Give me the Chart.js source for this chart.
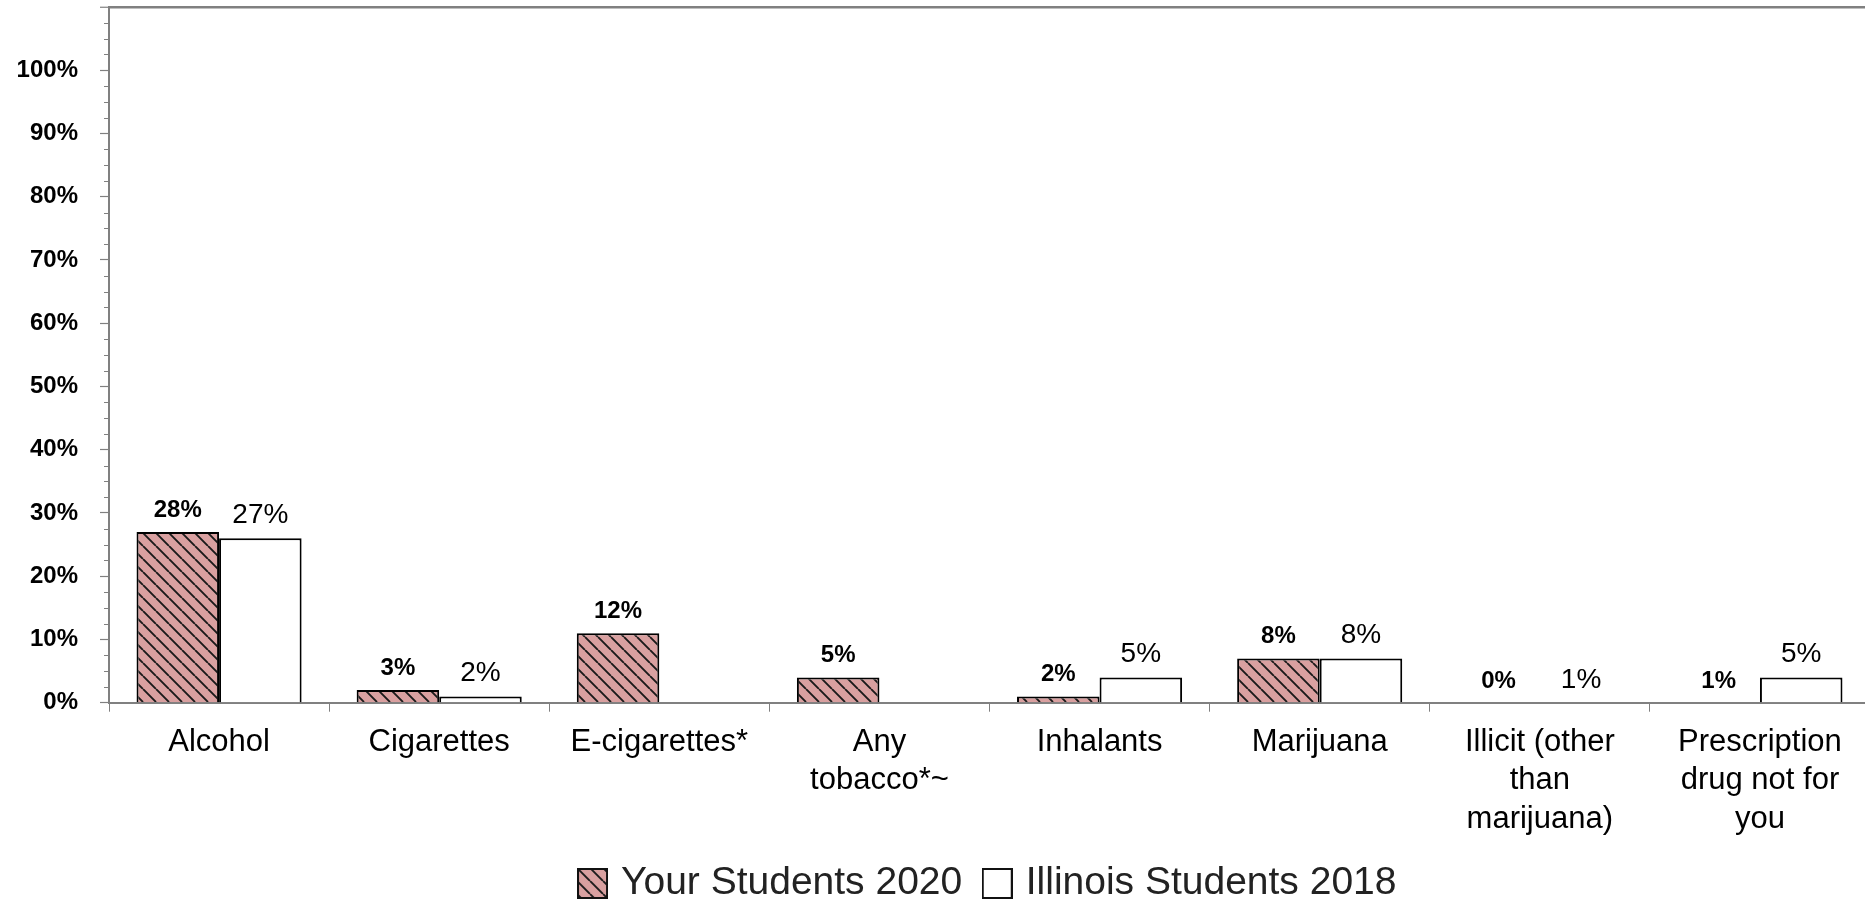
<!DOCTYPE html>
<html>
<head>
<meta charset="utf-8">
<script src="https://cdn.jsdelivr.net/npm/chart.js@4/dist/chart.umd.min.js"></script>
<style>
  html, body { margin: 0; padding: 0; background: #fff; overflow: hidden; }
  #wrap { position: relative; width: 1980px; height: 915px; }
</style>
</head>
<body>
<div id="wrap"><canvas id="c"></canvas></div>
<script>
const categories = [
  "Alcohol",
  "Cigarettes",
  "E-cigarettes*",
  ["Any", "tobacco*~"],
  "Inhalants",
  "Marijuana",
  ["Illicit (other", "than", "marijuana)"],
  ["Prescription", "drug not for", "you"],
];
// bar heights as drawn in the picture (%)
const yourBars = [27, 2, 11, 4, 1, 7, 0, 0];
const illinoisBars = [26, 1, null, null, 4, 7, 0, 4];
// printed labels above the bars
const yourLabels = ["28%", "3%", "12%", "5%", "2%", "8%", "0%", "1%"];
const illinoisLabels = ["27%", "2%", null, null, "5%", "8%", "1%", "5%"];
const yTicks = [0, 10, 20, 30, 40, 50, 60, 70, 80, 90, 100, 110];

const FONT = "'Liberation Sans', Arial, sans-serif";
const AXIS = "#808080";
const PINK = "#d9a0a0";

function hatch(color) {
  const n = 13;
  const c = document.createElement("canvas");
  c.width = n; c.height = n;
  const g = c.getContext("2d");
  g.fillStyle = color;
  g.fillRect(0, 0, n, n);
  g.strokeStyle = "#1a1a1a";
  g.lineWidth = 1.9;
  g.beginPath();
  for (const x0 of [-n, 0, n]) {
    g.moveTo(x0, 0);
    g.lineTo(x0 + n, n);
  }
  g.stroke();
  return g.createPattern(c, "repeat");
}

// legend swatch drawn as an image so it can sit closer to its text
function swatch(fill) {
  const s = 31;
  const c = document.createElement("canvas");
  c.width = s; c.height = s;
  const g = c.getContext("2d");
  g.fillStyle = fill;
  g.fillRect(0, 0, s, s);
  g.strokeStyle = "#111";
  g.lineWidth = 2;
  g.strokeRect(1, 1, s - 2, s - 2);
  return c;
}

const yourFill = hatch(PINK);
const swatches = [swatch(yourFill), swatch("#fff")];

const minorTicks = {
  id: "minorTicks",
  afterDraw(chart) {
    const y = chart.scales.y;
    const ctx = chart.ctx;
    const x = y.right;
    ctx.save();
    ctx.strokeStyle = AXIS;
    ctx.lineWidth = 1;
    for (let v = 2.5; v < 110; v += 2.5) {
      if (v % 10 === 0) continue;
      const py = Math.round(y.getPixelForValue(v)) + 0.5;
      ctx.beginPath();
      ctx.moveTo(x - 5, py);
      ctx.lineTo(x, py);
      ctx.stroke();
    }
    ctx.restore();
  },
};

const barLabels = {
  id: "barLabels",
  afterDatasetsDraw(chart) {
    const ctx = chart.ctx;
    const y = chart.scales.y;
    const sets = [
      { bars: yourBars, labels: yourLabels, font: "bold 24px " + FONT },
      { bars: illinoisBars, labels: illinoisLabels, font: "28px " + FONT },
    ];
    ctx.save();
    ctx.fillStyle = "#000";
    ctx.textAlign = "center";
    ctx.textBaseline = "alphabetic";
    sets.forEach((s, d) => {
      const meta = chart.getDatasetMeta(d);
      ctx.font = s.font;
      s.labels.forEach((txt, i) => {
        if (txt == null) return;
        const el = meta.data[i];
        const py = y.getPixelForValue(Math.max(s.bars[i] || 0, 0)) - 15;
        ctx.fillText(txt, el.x, py);
      });
    });
    ctx.restore();
  },
};

new Chart(document.getElementById("c"), {
  type: "bar",
  data: {
    labels: categories,
    datasets: [
      {
        label: "Your Students 2020",
        data: yourBars,
        backgroundColor: yourFill,
        borderColor: "#000",
        borderWidth: 2,
        borderSkipped: "bottom",
      },
      {
        label: "Illinois Students 2018",
        data: illinoisBars,
        backgroundColor: "#fff",
        borderColor: "#000",
        borderWidth: 2,
        borderSkipped: "bottom",
      },
    ],
  },
  options: {
    responsive: true,
    maintainAspectRatio: false,
    animation: false,
    layout: { padding: { top: 7, left: 0, right: 0, bottom: 2 } },
    datasets: { bar: { categoryPercentage: 0.75, barPercentage: 1.0 } },
    plugins: {
      tooltip: { enabled: false },
      legend: {
        position: "bottom",
        labels: {
          color: "#222",
          font: { family: FONT, size: 39 },
          usePointStyle: true,
          pointStyleWidth: 18,
          boxHeight: 31,
          padding: 26,
          generateLabels: (chart) =>
            Chart.defaults.plugins.legend.labels.generateLabels(chart)
              .map((item, i) => ({ ...item, pointStyle: swatches[i] })),
        },
      },
    },
    scales: {
      x: {
        afterFit: (s) => { s.height -= 11.5; },
        border: { color: AXIS, width: 2 },
        grid: { offset: true, drawOnChartArea: false, color: AXIS, tickLength: 9, lineWidth: 1 },
        ticks: {
          color: "#000",
          font: { family: FONT, size: 31, lineHeight: 1.245 },
          maxRotation: 0,
          autoSkip: false,
          padding: 11,
        },
      },
      y: {
        min: 0,
        max: 110,
        afterFit: (s) => { s.width = 109; s.paddingTop = 0; s.paddingBottom = 0; },
        afterBuildTicks: (s) => { s.ticks = yTicks.map((v) => ({ value: v })); },
        border: { color: AXIS, width: 2 },
        grid: {
          color: (c) => (c.tick && c.tick.value === 110 ? AXIS : "rgba(0,0,0,0)"),
          lineWidth: (c) => (c.tick && c.tick.value === 110 ? 2.5 : 1),
          tickColor: AXIS,
          tickWidth: 1.2,
          tickLength: 9,
        },
        ticks: {
          color: "#000",
          padding: 22,
          font: { family: FONT, weight: "bold", size: 24 },
          callback: (v) => (v === 110 ? "" : v + "%"),
        },
      },
      // empty right-hand spacer so the plot runs past the page edge
      spacer: {
        type: "linear",
        position: "right",
        min: 0,
        max: 110,
        afterFit: (s) => { s.width = 110; s.paddingTop = 0; s.paddingBottom = 0; },
        grid: { display: false },
        border: { display: false },
        ticks: { display: false },
      },
    },
  },
  plugins: [minorTicks, barLabels],
});
</script>
</body>
</html>
